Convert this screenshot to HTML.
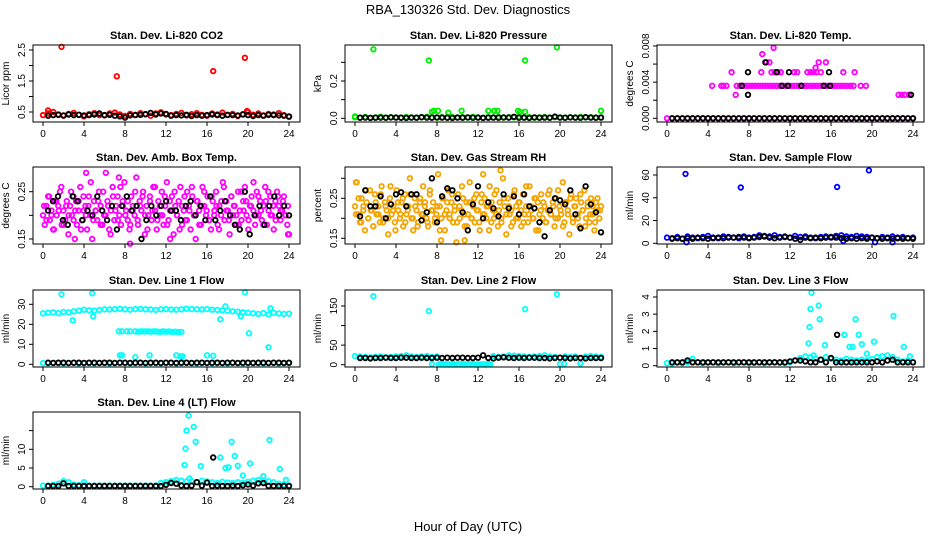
<!DOCTYPE html>
<html><head><meta charset="utf-8"><style>
html,body{margin:0;padding:0;background:#fff}
svg{display:block;font-family:"Liberation Sans",Arial,sans-serif}
</style></head><body>
<svg id="chart" width="936" height="540" viewBox="0 0 936 540" xmlns="http://www.w3.org/2000/svg">
<rect width="936" height="540" fill="#fff"/>
<text x="468" y="14" text-anchor="middle" font-size="13">RBA_130326  Std. Dev. Diagnostics</text>
<text x="468" y="531" text-anchor="middle" font-size="13">Hour of Day (UTC)</text>
</svg>
<script>
const xTicks=[0,4,8,12,16,20,24];
const co2Base=[0.4,0.45,0.5,0.42,0.38,0.44,0.47,0.41,0.36,0.43,0.46,0.4,0.39,0.45,0.48,0.42,0.37,0.44,0.41,0.46,0.43,0.38,0.45,0.49,0.42,0.4,0.44,0.47,0.39,0.43,0.46,0.41,0.38,0.45,0.42,0.48,0.4,0.44,0.37,0.43,0.5,0.41,0.45,0.39,0.44,0.42,0.46,0.4,0.36];
const co2Black=[0.38,0.4,0.41,0.39,0.42,0.4,0.41,0.39,0.4,0.42,0.45,0.4,0.41,0.38,0.36,0.32,0.39,0.4,0.41,0.43,0.47,0.42,0.45,0.44,0.38,0.4,0.39,0.41,0.37,0.4,0.38,0.4,0.42,0.4,0.38,0.41,0.4,0.39,0.42,0.4,0.37,0.4,0.38,0.41,0.4,0.39,0.38,0.35];
const co2Extra=[[1.8,2.6],[7.2,1.65],[16.6,1.82],[19.7,2.25],[0.5,0.55],[19.9,0.53]];
const presBase=[0.006,0.004,0.007,0.003,0.005,0.008,0.004,0.006,0.005,0.003,0.007,0.005,0.004,0.006,0.008,0.005,0.003,0.006,0.004,0.007,0.005,0.006,0.004,0.008,0.005,0.003,0.006,0.005,0.007,0.004,0.006,0.005,0.008,0.004,0.006,0.003,0.005,0.007,0.004,0.006,0.005,0.003,0.006,0.004,0.007,0.005,0.006,0.004,0.005];
const presBlack=[0.003,0.004,0.002,0.003,0.004,0.003,0.005,0.004,0.003,0.002,0.004,0.003,0.006,0.004,0.003,0.005,0.004,0.003,0.002,0.004,0.003,0.005,0.003,0.004,0.002,0.003,0.004,0.003,0.005,0.004,0.008,0.003,0.004,0.002,0.005,0.003,0.004,0.003,0.009,0.004,0.003,0.005,0.004,0.003,0.006,0.004,0.003,0.004];
const presExtra=[[1.8,0.37],[7.2,0.31],[16.6,0.31],[19.7,0.38],[7.5,0.035],[7.7,0.04],[8.1,0.04],[9.1,0.03],[10.4,0.04],[13,0.04],[13.6,0.04],[13.9,0.04],[15.9,0.04],[16.1,0.035],[16.6,0.035],[24,0.04],[0,0.01]];
const tempBase=[0,0,0,0,0,0,0,0,0,0,0,0,0,0,0,0,0,0,0,0,0,0,0,0,0,0,0,0,0,0,0,0,0,0,0,0,0,0,0,0,0,0,0,0,0,0,0,0,0];
const tempBlack=[0,0,0,0,0,0,0,0,0,0,0,0,0,0,0,0,0,0,0,0,0,0,0,0,0,0,0,0,0,0,0,0,0,0,0,0,0,0,0,0,0,0,0,0,0,0,0,0];
const tempExtra=[[4.4,0.0036],[5.3,0.0036],[5.5,0.0036],[5.8,0.0036],[6.3,0.0051],[6.7,0.0026],[6.8,0.0036],[7.1,0.0036],[7.4,0.0036],[7.7,0.0036],[8.0,0.0036],[8.3,0.0036],[8.6,0.0036],[8.9,0.0036],[9.2,0.0036],[9.5,0.0036],[9.8,0.0036],[10.1,0.0036],[10.4,0.0036],[10.7,0.0036],[11.0,0.0036],[11.3,0.0036],[11.6,0.0036],[11.9,0.0036],[12.2,0.0036],[12.5,0.0036],[12.8,0.0036],[13.1,0.0036],[13.4,0.0036],[13.7,0.0036],[14.0,0.0036],[14.3,0.0036],[14.6,0.0036],[14.9,0.0036],[15.2,0.0036],[15.5,0.0036],[15.8,0.0036],[16.1,0.0036],[16.4,0.0036],[16.7,0.0036],[17.0,0.0036],[17.3,0.0036],[17.6,0.0036],[17.9,0.0036],[18.2,0.0036],[18.9,0.0036],[19.4,0.0036],[9.2,0.0051],[9.7,0.0062],[10.0,0.0062],[9.3,0.0071],[10.4,0.0078],[10.2,0.0051],[10.5,0.0051],[10.8,0.0051],[11.1,0.0051],[12.4,0.0051],[12.7,0.0051],[13.7,0.0051],[14.0,0.0051],[14.3,0.0051],[14.6,0.0051],[15.0,0.0051],[14.5,0.0056],[14.8,0.0062],[15.5,0.0062],[17.2,0.0051],[18.3,0.0051],[22.6,0.0026],[22.9,0.0026],[23.2,0.0026],[23.6,0.0026]];
const tempBlackExtra=[[7.3,0.0036],[7.9,0.0026],[7.9,0.0051],[9.6,0.0062],[10.7,0.0051],[11.2,0.0036],[11.8,0.0036],[11.9,0.0051],[13.1,0.0036],[15.3,0.0036],[15.9,0.0036],[15.8,0.0051],[23.8,0.0026]];
const ambBase=[0.20,0.18,0.22,0.24,0.19,0.21,0.17,0.23,0.20,0.22,0.25,0.18,0.21,0.19,0.23,0.16,0.22,0.20,0.24,0.21,0.18,0.23,0.26,0.19,0.21,0.22,0.17,0.24,0.20,0.15,0.23,0.21,0.19,0.25,0.22,0.18,0.20,0.29,0.23,0.17,0.21,0.26,0.19,0.22,0.24,0.20,0.18,0.23,0.27,0.21,0.19,0.17,0.24,0.22,0.20,0.28,0.18,0.23,0.21,0.25,0.16,0.22,0.20,0.24,0.19,0.26,0.21,0.17,0.23,0.20,0.25,0.18,0.22,0.27,0.19,0.21,0.24,0.16,0.22,0.20,0.23,0.26,0.18,0.21,0.19,0.25,0.22,0.17,0.24,0.20,0.15,0.23,0.21,0.18,0.26,0.22,0.20,0.24,0.19,0.17,0.23,0.21,0.25,0.18,0.22,0.20,0.27,0.19,0.23,0.21,0.16,0.24,0.20,0.22,0.18,0.25,0.21,0.19,0.23,0.26,0.20,0.17,0.22,0.24,0.21,0.18,0.25,0.20,0.23,0.19,0.22,0.26,0.18,0.21,0.24,0.20,0.17,0.23,0.25,0.22,0.19,0.21,0.24,0.20,0.18,0.16];
const ambBase2=[0.22,0.19,0.24,0.2,0.17,0.23,0.21,0.26,0.18,0.22,0.2,0.25,0.19,0.23,0.21,0.17,0.24,0.2,0.22,0.27,0.19,0.21,0.23,0.18,0.25,0.2,0.22,0.16,0.24,0.21,0.19,0.26,0.22,0.2,0.23,0.18,0.21,0.25,0.19,0.22,0.24,0.2,0.17,0.23,0.21,0.26,0.19,0.22,0.2,0.24,0.18,0.23,0.21,0.25,0.2,0.17,0.22,0.24,0.19,0.21,0.26,0.2,0.23,0.18,0.22,0.25,0.21,0.19,0.24,0.2,0.22,0.17,0.23,0.26,0.21,0.19,0.24,0.22,0.2,0.18,0.25,0.21,0.23,0.19,0.22,0.27,0.2,0.24,0.21,0.18,0.23,0.25,0.2,0.22,0.19,0.24,0.21,0.23,0.2,0.22];
const ambBlack=[0.21,0.23,0.24,0.19,0.18,0.24,0.23,0.19,0.21,0.2,0.24,0.21,0.19,0.22,0.17,0.22,0.24,0.21,0.22,0.15,0.19,0.22,0.2,0.22,0.23,0.21,0.21,0.19,0.22,0.23,0.20,0.22,0.19,0.24,0.19,0.21,0.23,0.2,0.18,0.17,0.25,0.16,0.2,0.22,0.18,0.22,0.24,0.2,0.22,0.2];
const ambExtra=[[4.2,0.29],[7.4,0.28],[3.1,0.15],[12.4,0.15],[8.5,0.14],[23.9,0.16]];
const rhBase=[0.23,0.29,0.21,0.19,0.25,0.22,0.17,0.24,0.2,0.27,0.22,0.18,0.26,0.21,0.23,0.19,0.28,0.2,0.24,0.22,0.16,0.25,0.21,0.23,0.19,0.27,0.22,0.2,0.24,0.18,0.26,0.21,0.23,0.3,0.2,0.17,0.25,0.22,0.19,0.24,0.21,0.28,0.23,0.2,0.18,0.26,0.22,0.24,0.19,0.21,0.31,0.23,0.2,0.25,0.17,0.22,0.27,0.21,0.24,0.19,0.23,0.14,0.26,0.2,0.22,0.25,0.18,0.24,0.21,0.29,0.2,0.23,0.19,0.26,0.22,0.17,0.24,0.21,0.25,0.2,0.23,0.28,0.19,0.22,0.26,0.21,0.18,0.24,0.2,0.3,0.23,0.16,0.25,0.21,0.22,0.19,0.27,0.23,0.2,0.24,0.18,0.26,0.21,0.23,0.19,0.28,0.22,0.2,0.25,0.17,0.24,0.21,0.26,0.2,0.23,0.19,0.22,0.27,0.21,0.24,0.18,0.25,0.2,0.23,0.21,0.29,0.19,0.24,0.22,0.16,0.26,0.2,0.23,0.25,0.21,0.18,0.24,0.22,0.27,0.2,0.23,0.19,0.25,0.21,0.17,0.24,0.22,0.2,0.23];
const rhBase2=[0.21,0.25,0.19,0.23,0.27,0.2,0.22,0.18,0.24,0.21,0.26,0.19,0.23,0.2,0.28,0.22,0.17,0.24,0.21,0.25,0.19,0.22,0.26,0.2,0.23,0.18,0.25,0.21,0.24,0.19,0.27,0.22,0.2,0.23,0.17,0.25,0.21,0.24,0.2,0.26,0.22,0.19,0.23,0.28,0.21,0.18,0.24,0.2,0.25,0.22,0.19,0.26,0.21,0.23,0.17,0.24,0.2,0.27,0.22,0.19,0.25,0.21,0.23,0.18,0.26,0.2,0.24,0.22,0.19,0.28,0.21,0.23,0.2,0.25,0.17,0.22,0.24,0.19,0.26,0.21,0.23,0.2,0.27,0.22,0.18,0.24,0.21,0.25,0.19,0.23,0.2,0.26,0.22,0.18,0.24,0.21,0.23,0.19,0.25,0.22];
const rhBlack=[0.205,0.27,0.23,0.23,0.255,0.2,0.235,0.26,0.265,0.23,0.26,0.26,0.195,0.215,0.3,0.19,0.255,0.275,0.27,0.25,0.215,0.17,0.235,0.28,0.2,0.24,0.225,0.205,0.26,0.225,0.255,0.21,0.26,0.23,0.225,0.19,0.155,0.22,0.25,0.245,0.235,0.27,0.21,0.175,0.28,0.235,0.215,0.165];
const rhExtra=[[8.4,0.145],[10.7,0.145],[12.5,0.31],[14.2,0.32],[0.1,0.29]];
const sampleBase=[5,4.5,5.5,4,6,5,4.5,5.5,6.5,5,4.5,6,5.5,5,4.5,6,5,5.5,7,6.5,6,7,5.5,6,5,6.5,5.5,6,5,4.5,5.5,6,5,6.5,7,6,5.5,6.5,6,5.5,5,4.5,5.5,5,6,5,5.5,4.5,5];
const sampleBlack=[4,4.5,4,4.5,4,5,4.5,4,4.5,5,4.5,5,5,5.5,5,4.5,5,5.5,6,5,4.5,5,5.5,5,4,3,5,4.5,5,4.5,5,5.5,5,4.5,4,4.5,4,4.5,4,5,4.5,4,4.5,4,4.5,4,4.5,4];
const sampleExtra=[[1.8,61],[7.2,49],[16.6,49.5],[19.7,64],[1.9,1],[20.3,1],[22,1],[17.2,2]];
const line1Base=[25.5,25.8,26,25.6,26.2,26,26.5,26.8,27.3,27,26.8,27.2,27.5,27.4,27.6,27.8,27.5,27.3,27.6,27.7,27.5,27.4,27.2,27.5,27.6,27.4,27.3,27.5,27.8,27.6,27.5,27.4,27.6,27.3,27.2,27,26.8,26.5,26.3,26,25.8,25.5,25.2,25.6,25,25.8,25.4,25.2,25.3];
const line1Low=[0.6,0.5,0.7,0.6,0.5,0.6,0.7,0.5,0.6,0.6,0.5,0.7,0.6,0.5,0.6,0.7,0.6,0.5,0.6,0.7,0.5,0.6,0.6,0.5,0.7,0.6,0.5,0.6,0.7,0.6,0.5,0.6,0.7,0.5,0.6,0.6,0.5,0.7,0.6,0.5,0.6,0.7,0.6,0.5,0.6,0.7,0.5,0.6,0.6];
const line1Black=[0.8,0.7,0.8,0.8,0.7,0.8,0.8,0.7,0.8,0.8,0.7,0.8,0.8,0.7,0.8,0.8,0.7,0.8,0.8,0.7,0.8,0.8,0.7,0.8,0.8,0.7,0.8,0.8,0.7,0.8,0.8,0.7,0.8,0.8,0.7,0.8,0.8,0.7,0.8,0.8,0.7,0.8,0.8,0.7,0.8,0.8,0.7,0.8];
const line1Extra=[[7.4,16.5],[7.7,16.5],[8.2,16.5],[8.5,16.5],[9.0,16.5],[9.3,16.3],[9.6,16.5],[9.9,16.4],[10.2,16.5],[10.5,16.3],[10.8,16.5],[11.1,16.4],[11.4,16.2],[11.7,16.5],[12.0,16.3],[12.3,16.4],[12.6,16.2],[12.9,16.3],[13.2,16.1],[13.5,16.2],[1.8,35],[4.8,35.5],[19.7,36],[2.9,22],[4.9,24],[17.3,22.5],[20.1,15.5],[22,8.5],[19.3,24],[7.5,4.5],[7.7,4.5],[9,3.5],[10.4,4.5],[13,4.5],[13.4,4],[13.6,4],[16,4.5],[16.6,4.3],[17.8,29],[22.2,28]];
const line2Base=[22,21,20,19,20,21,19,20,21,22,24,21,20,21,22,20,21,2,1,2,1,2,1,2,1,1,2,22,20,21,24,23,22,21,20,21,22,24,21,20,2,21,20,21,3,21,22,21,20];
const line2Black=[17,17,16,17,17,18,17,17,18,18,17,17,18,17,17,18,17,18,17,18,18,17,17,18,24,17,16,18,19,18,17,18,17,18,18,17,17,16,17,18,17,16,17,17,16,17,17,17];
const line2Extra=[[1.8,175],[7.2,137],[16.6,142],[19.7,180],[7.5,2],[8.2,1],[8.4,2],[8.8,1],[9.2,0.5],[9.4,1],[9.7,0.5],[10.2,1],[10.7,0.5],[11.2,1],[11.7,0.5],[12.3,1],[12.7,0.5],[13.2,1],[20.4,2],[22,3]];
const line3Base=[0.15,0.12,0.18,0.15,0.2,0.4,0.2,0.15,0.18,0.2,0.15,0.18,0.2,0.15,0.18,0.2,0.15,0.17,0.2,0.15,0.18,0.2,0.17,0.15,0.2,0.3,0.45,0.55,0.5,0.4,0.35,0.5,0.4,0.35,0.3,0.4,0.35,0.3,0.35,0.3,0.4,0.5,0.55,0.6,0.5,0.35,0.25,0.3,0.2];
const line3Black=[0.2,0.2,0.2,0.3,0.2,0.2,0.2,0.2,0.2,0.2,0.2,0.2,0.2,0.2,0.2,0.2,0.2,0.2,0.2,0.2,0.2,0.2,0.2,0.25,0.3,0.3,0.25,0.2,0.2,0.35,0.2,0.45,0.2,0.2,0.2,0.2,0.2,0.2,0.2,0.2,0.25,0.2,0.3,0.35,0.2,0.2,0.2,0.2];
const line3Extra=[[14.1,4.25],[14,3.3],[14.8,3.5],[13.9,2.25],[14.9,2.7],[13.8,1.3],[14.3,0.6],[15.4,1.2],[17.3,1.8],[17.8,1.1],[18.1,1.1],[18.4,2.7],[18.7,1.8],[19,1.25],[19.5,0.7],[20.2,1.4],[22.1,2.9],[23.1,1.1],[23.7,0.55]];
const line3BlackExtra=[[16.6,1.8]];
const line4Base=[0.3,0.3,0.5,0.8,1.5,1.2,0.6,0.4,0.3,0.3,0.3,0.3,0.3,0.3,0.3,0.3,0.3,0.3,0.3,0.3,0.3,0.3,0.3,1.0,1.2,1.5,1.8,1.6,1.4,1.5,1.2,1.6,1.4,1.2,1.0,1.3,1.1,1.0,1.2,1.0,1.3,1.6,1.8,1.7,1.5,1.2,0.8,0.5,0.3];
const line4Black=[0.2,0.2,0.2,0.9,0.2,0.2,0.2,0.2,0.2,0.2,0.2,0.2,0.2,0.2,0.2,0.2,0.2,0.2,0.2,0.2,0.2,0.2,0.2,0.5,1.0,0.8,0.3,0.2,0.3,1.2,0.3,1.1,0.2,0.3,0.2,0.2,0.3,0.2,0.4,0.6,0.3,0.9,1.0,0.2,0.2,0.2,0.2,0.2];
const line4Extra=[[14.2,19],[14,15],[14.7,16],[13.9,10.2],[14.9,12],[13.8,5.8],[14.3,2.2],[15.4,5.5],[17.3,7.8],[17.8,5],[18.1,5.2],[18.4,12],[18.7,8.2],[19,5.6],[19.5,3],[20.2,6.2],[22.1,12.5],[23.1,4.7],[23.7,1.8],[4,1.2],[21.5,2.8]];
const line4BlackExtra=[[16.6,7.8]];

const NS="http://www.w3.org/2000/svg";
const svg=document.getElementById('chart');
function mk(tag,attrs,parent){const e=document.createElementNS(NS,tag);for(const k in attrs)e.setAttribute(k,attrs[k]);(parent||svg).appendChild(e);return e;}
const colL=[33,345,657], rowT=[45,167,290,412];
const panels=[
 {title:'Stan. Dev. Li-820 CO2',ylab:'Licor ppm',c:0,r:0,v0:0.5,p0:112,v1:2.5,p1:50,ticks:[0.5,1,1.5,2,2.5],labels:['0.5','','1.5','','2.5'],col:'#ff0000',base:co2Base,black:co2Black,extra:co2Extra,bextra:[]},
 {title:'Stan. Dev. Li-820 Pressure',ylab:'kPa',c:1,r:0,v0:0,p0:118.3,v1:0.2,p1:81,ticks:[0,0.1,0.2,0.3],labels:['0.0','','0.2',''],col:'#00ee00',base:presBase,black:presBlack,extra:presExtra,bextra:[]},
 {title:'Stan. Dev. Li-820 Temp.',ylab:'degrees C',c:2,r:0,v0:0,p0:118.3,v1:0.008,p1:46,ticks:[0,0.002,0.004,0.006,0.008],labels:['0.000','','0.004','','0.008'],col:'#ff00ff',base:tempBase,black:tempBlack,extra:tempExtra,bextra:tempBlackExtra},
 {title:'Stan. Dev. Amb. Box Temp.',ylab:'degrees C',c:0,r:1,v0:0.15,p0:239,v1:0.25,p1:191.7,ticks:[0.15,0.2,0.25],labels:['0.15','','0.25'],col:'#ff00ff',base:ambBase,base2:ambBase2,black:ambBlack,extra:ambExtra,bextra:[]},
 {title:'Stan. Dev. Gas Stream RH',ylab:'percent',c:1,r:1,v0:0.15,p0:238.3,v1:0.25,p1:198.3,ticks:[0.15,0.2,0.25,0.3],labels:['0.15','','0.25',''],col:'#f5a300',base:rhBase,base2:rhBase2,black:rhBlack,extra:rhExtra,bextra:[]},
 {title:'Stan. Dev. Sample Flow',ylab:'ml/min',c:2,r:1,v0:0,p0:243.3,v1:60,p1:175,ticks:[0,20,40,60],labels:['0','20','40','60'],col:'#0000ff',base:sampleBase,black:sampleBlack,extra:sampleExtra,bextra:[]},
 {title:'Stan. Dev. Line 1 Flow',ylab:'ml/min',c:0,r:2,v0:0,p0:364.3,v1:30,p1:304.3,ticks:[0,10,20,30],labels:['0','10','20','30'],col:'#00ffff',base:line1Base,low:line1Low,black:line1Black,extra:line1Extra,bextra:[]},
 {title:'Stan. Dev. Line 2 Flow',ylab:'ml/min',c:1,r:2,v0:0,p0:364.7,v1:150,p1:306,ticks:[0,50,100,150],labels:['0','50','','150'],col:'#00ffff',base:line2Base,black:line2Black,extra:line2Extra,bextra:[]},
 {title:'Stan. Dev. Line 3 Flow',ylab:'ml/min',c:2,r:2,v0:0,p0:365.7,v1:4,p1:297,ticks:[0,1,2,3,4],labels:['0','1','2','3','4'],col:'#00ffff',base:line3Base,black:line3Black,extra:line3Extra,bextra:line3BlackExtra},
 {title:'Stan. Dev. Line 4 (LT) Flow',ylab:'ml/min',c:0,r:3,v0:0,p0:486.7,v1:10,p1:449.3,ticks:[0,5,10,15],labels:['0','5','10',''],col:'#00ffff',base:line4Base,black:line4Black,extra:line4Extra,bextra:line4BlackExtra}
];
panels.forEach((p,pi)=>{
 const L=colL[p.c],T=rowT[p.r],W=267,H=77;
 const g=mk('g',{});
 
 
 const xs=h=>L+10+h*246/24;
 const ys=v=>p.p0+(v-p.v0)*(p.p1-p.p0)/(p.v1-p.v0);
 const t=mk('text',{x:L+W/2,y:T-6,'text-anchor':'middle','font-size':11,'font-weight':'bold'},g);t.textContent=p.title;
 
 
 const yl=mk('text',{x:0,y:0,transform:`translate(${L-24},${T+H/2}) rotate(-90)`,'text-anchor':'middle','font-size':10},g);yl.textContent=p.ylab;
 
 
 const marks=mk('g',{fill:'none','stroke-width':1.8},g);
 
 
 function pt(h,v,color){const c=mk('circle',{cx:xs(h).toFixed(1),cy:ys(v).toFixed(1),r:2.3,stroke:color},marks);
  
  }
 p.base.forEach((v,i)=>pt(i*24/(p.base.length-1),v,p.col));
 if(p.base2)p.base2.forEach((v,i)=>pt(0.1+i*23.8/(p.base2.length-1),v,p.col));
 if(p.low)p.low.forEach((v,i)=>pt(i*24/(p.low.length-1),v,p.col));
 p.extra.forEach(e=>pt(e[0],e[1],p.col));
 p.black.forEach((v,i)=>pt(0.5+i*23.5/(p.black.length-1),v,'#000'));
 p.bextra.forEach(e=>pt(e[0],e[1],'#000'));
 const box=mk('rect',{x:L,y:T,width:W,height:H,fill:'none',stroke:'#000','stroke-width':1},g);
 
 
 xTicks.forEach(h=>{const x=xs(h);mk('line',{x1:x,x2:x,y1:T+H,y2:T+H+4,stroke:'#000'},g);
  const tx=mk('text',{x:x,y:T+H+15,'text-anchor':'middle','font-size':10},g);tx.textContent=h;
  
  });
 p.ticks.forEach((v,i)=>{const y=ys(v);mk('line',{x1:L-4,x2:L,y1:y,y2:y,stroke:'#000'},g);
  if(p.labels[i]){const ty=mk('text',{x:0,y:0,transform:`translate(${L-8},${y}) rotate(-90)`,'text-anchor':'middle','font-size':10},g);ty.textContent=p.labels[i];
  
  }});
});
</script>
</body></html>
